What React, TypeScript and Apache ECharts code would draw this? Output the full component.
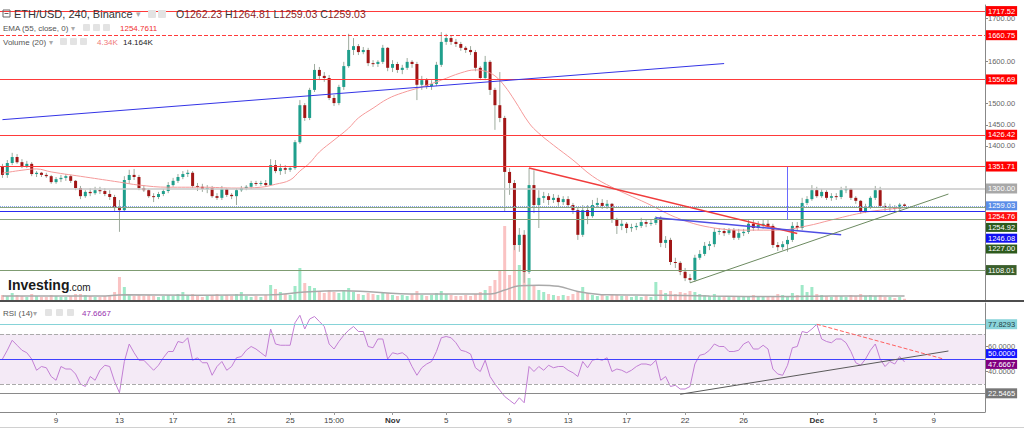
import React, { useEffect, useRef } from 'react';
import * as echarts from 'echarts';

// ---- data ----
// candles: [open, close, low, high]
const candles: number[][] = [
  [1351,1332,1325,1358],[1332,1360,1325,1367],[1360,1374,1355,1384],[1374,1362,1358,1381],[1362,1353,1348,1369],
  [1353,1358,1348,1365],[1358,1334,1329,1362],[1334,1337,1327,1341],[1337,1332,1327,1339],[1332,1329,1325,1337],
  [1329,1315,1311,1332],[1315,1322,1311,1327],[1322,1325,1315,1332],[1325,1329,1318,1334],[1329,1318,1313,1332],
  [1318,1301,1296,1320],[1301,1282,1275,1306],[1282,1292,1278,1296],[1292,1289,1282,1301],[1289,1296,1285,1304],
  [1296,1294,1287,1304],[1294,1287,1282,1301],[1287,1280,1273,1296],[1280,1254,1245,1285],[1254,1249,1198,1273],
  [1249,1320,1245,1329],[1320,1332,1311,1344],[1332,1327,1320,1346],[1327,1301,1296,1332],[1301,1296,1292,1308],
  [1296,1282,1278,1299],[1282,1280,1268,1289],[1280,1287,1275,1292],[1287,1294,1282,1299],[1294,1308,1289,1315],
  [1308,1318,1304,1325],[1318,1327,1313,1334],[1327,1334,1322,1341],[1334,1337,1327,1344],[1337,1306,1301,1341],
  [1306,1304,1294,1313],[1304,1299,1292,1311],[1299,1301,1289,1308],[1301,1282,1278,1306],[1282,1278,1273,1289],
  [1278,1299,1273,1306],[1299,1285,1280,1301],[1285,1282,1275,1289],[1282,1296,1261,1301],[1296,1301,1292,1306],
  [1301,1304,1296,1308],[1304,1313,1299,1318],[1313,1311,1306,1318],[1311,1313,1306,1318],[1313,1308,1304,1320],
  [1308,1355,1306,1369],[1355,1341,1336,1367],[1341,1348,1332,1358],[1348,1344,1334,1355],[1344,1348,1339,1353],
  [1348,1409,1344,1414],[1409,1496,1405,1508],[1496,1466,1459,1501],[1466,1532,1461,1537],[1532,1579,1527,1593],
  [1579,1565,1555,1586],[1565,1560,1551,1574],[1560,1513,1508,1567],[1513,1501,1494,1520],[1501,1539,1496,1544],
  [1539,1588,1532,1598],[1588,1626,1584,1664],[1626,1635,1614,1654],[1635,1621,1614,1640],[1621,1626,1616,1633],
  [1626,1595,1588,1631],[1595,1593,1586,1602],[1593,1598,1586,1602],[1598,1631,1593,1638],[1631,1584,1576,1633],
  [1584,1593,1574,1602],[1593,1579,1572,1598],[1579,1584,1569,1591],[1584,1598,1579,1607],[1598,1593,1584,1602],
  [1593,1544,1508,1598],[1544,1555,1532,1565],[1555,1541,1534,1560],[1541,1546,1532,1555],[1546,1591,1541,1598],
  [1591,1645,1586,1668],[1645,1654,1638,1664],[1654,1645,1638,1659],[1645,1640,1633,1652],[1640,1631,1624,1645],
  [1631,1626,1619,1635],[1626,1621,1614,1635],[1621,1584,1576,1626],[1584,1560,1555,1588],[1560,1598,1555,1612],
  [1598,1532,1520,1602],[1532,1496,1438,1537],[1496,1466,1456,1574],[1466,1339,1245,1471],[1339,1313,1285,1348],
  [1313,1167,1155,1320],[1167,1191,1151,1207],[1191,1104,1078,1202],[1104,1308,1099,1348],[1308,1261,1242,1343],
  [1261,1278,1207,1296],[1278,1282,1266,1292],[1282,1273,1261,1289],[1273,1278,1266,1287],[1278,1268,1259,1285],
  [1268,1275,1261,1282],[1275,1261,1254,1282],[1261,1249,1240,1266],[1249,1191,1179,1254],[1191,1249,1186,1261],
  [1249,1235,1216,1261],[1235,1261,1231,1273],[1261,1266,1254,1278],[1266,1259,1252,1275],[1259,1264,1252,1273],
  [1264,1226,1219,1266],[1226,1212,1193,1231],[1212,1217,1202,1226],[1217,1207,1195,1221],[1207,1209,1198,1217],
  [1209,1212,1202,1219],[1212,1221,1207,1231],[1221,1217,1209,1228],[1217,1219,1212,1226],[1219,1231,1214,1235],
  [1231,1172,1162,1235],[1172,1179,1160,1188],[1179,1127,1120,1184],[1127,1125,1113,1137],[1125,1104,1096,1129],
  [1104,1089,1082,1113],[1089,1085,1078,1099],[1085,1137,1080,1144],[1137,1146,1132,1155],[1146,1165,1141,1174],
  [1165,1169,1155,1176],[1169,1198,1162,1207],[1198,1200,1191,1207],[1200,1195,1188,1207],[1195,1202,1191,1207],
  [1202,1184,1179,1207],[1184,1195,1179,1205],[1195,1198,1188,1205],[1198,1217,1193,1226],[1217,1207,1200,1226],
  [1207,1214,1202,1223],[1214,1217,1205,1228],[1217,1212,1205,1226],[1212,1167,1160,1217],[1167,1162,1153,1174],
  [1162,1169,1155,1176],[1169,1179,1151,1188],[1179,1212,1174,1221],[1212,1207,1200,1221],[1207,1266,1202,1278],
  [1266,1275,1261,1282],[1275,1296,1271,1308],[1296,1282,1278,1304],[1282,1292,1278,1299],[1292,1278,1273,1296],
  [1278,1282,1271,1289],[1282,1280,1273,1289],[1280,1296,1275,1304],[1296,1299,1289,1306],[1299,1278,1273,1301],
  [1278,1271,1264,1282],[1271,1245,1240,1273],[1245,1256,1242,1264],[1256,1278,1252,1282],[1278,1296,1273,1306],
  [1296,1259,1254,1304],[1259,1254,1247,1266],[1254,1256,1247,1264],[1256,1252,1245,1261],[1252,1262,1245,1266],
  [1262.23,1259.03,1259.03,1264.81],
];

// volume in K
const volumes: number[] = [
  17.5,14,24.5,17.5,14,10.5,21,14,10.5,10.5,17.5,14,10.5,10.5,14,21,21,17.5,14,10.5,10.5,14,17.5,
  28,80.5,45.5,
  21,14,17.5,14,17.5,14,10.5,14,17.5,14,21,28,17.5,21,14,10.5,14,17.5,21,14,17.5,14,21,28,14,10.5,14,10.5,
  17.5,52.5,38.5,28,21,17.5,49,112,59.5,49,42,
  31.5,24.5,35,28,24.5,31.5,42,28,21,17.5,24.5,21,17.5,28,24.5,17.5,14,17.5,14,21,31.5,17.5,14,17.5,24.5,31.5,21,17.5,14,14,17.5,14,
  21,28,35,49,70,105,259,87.5,210,122.5,140,77,49,35,
  28,21,17.5,14,17.5,14,21,31.5,45.5,24.5,17.5,14,17.5,14,21,17.5,14,14,10.5,14,10.5,14,10.5,
  63,35,24.5,31.5,21,28,24.5,31.5,28,21,17.5,
  14,21,14,10.5,14,10.5,10.5,14,10.5,17.5,14,10.5,10.5,14,21,17.5,14,24.5,17.5,
  52.5,28,45.5,21,
  17.5,14,10.5,14,14,10.5,17.5,14,21,14,17.5,14,17.5,10.5,10.5,7,10.5,4.34,
];

const rsi: number[] = [
  50,57,65,61,57,55,50,41,44,43, 36,33,44,42,42,38,30,28,36,33,
  41,45,44,32,23,48,62,55,49,49, 45,41,45,51,56,56,64,63,67,49,
  51,47,47,37,44,48,41,44,51,52, 57,60,58,55,52,74,62,61,61,61,
  79,85,74,82,84,80,76,62,58,64, 69,73,76,72,72,60,59,66,66,50,
  55,54,55,52,44,37,43,46,48,56, 67,68,67,63,57,56,54,43,40,49,
  36,30,25,20,17,14,19,15,44,40, 44,41,45,43,44,44,41,39,36,48,
  43,49,50,49,51,40,42,41,39,41, 44,46,46,45,49,33,36,28,29,26,
  26,28,46,53,54,57,62,60,60,56, 56,57,62,64,58,58,61,58,42,38,
  37,45,59,60,72,71,74,77.8,66,64, 63,66,66,63,56,47,45,50,57,62,
  50,44,48,46,52,47.6667,
];

// EMA(55) read at [candle index, price]
const ema: number[][] = [
  [0,1336],[4,1343],[7,1346],[10,1339],[17,1327],[24,1315],[28,1308],[34,1303],[41,1303],[48,1301],
  [53,1303],[56,1310],[59,1320],[61,1341],[63,1360],[65,1386],[68,1414],[71,1442],[73,1466],[76,1489],
  [79,1511],[82,1525],[86,1539],[90,1555],[94,1572],[97,1579],[99,1576],[101,1565],[103,1541],[105,1508],
  [108,1454],[110,1430],[113,1402],[117,1367],[121,1329],[125,1303],[132,1266],[139,1228],[146,1207],
  [153,1202],[159,1202],[165,1212],[170,1226],[176,1242],[180,1249],[185,1254.7611],
];

// Volume MA(20) read at [candle index, K]
const volMa: number[][] = [
  [0,14],[20,14],[25,18],[40,17],[55,18],[62,28],[70,32],[85,21],[100,21],[103,35],[106,50],[110,52],
  [114,48],[118,30],[124,18],[135,17],[145,14],[160,12],[170,14],[185,14.164],
];

const xTickIndex = [11, 24, 35, 47, 59, 68, 80, 91, 104, 116, 128, 140, 152, 167, 179, 191];
const xTickText = ['9', '13', '17', '21', '25', '15:00', 'Nov', '5', '9', '13', '17', '22', '26', 'Dec', '5', '9'];
const slotCount = 202;

const priceTicks = [1400, 1450, 1500, 1600, 1700];
const rsiTicks = [40, 60];

const resistanceLevels = [1717.52, 1660.75, 1556.69, 1426.42, 1351.71];
const level1300 = 1300;
const lastPrice = 1259.03;
const lastEma = 1254.7611;
const greenLevel = 1254.92;
const blueLevel = 1246.08;
const supportLevels = [1227.0, 1108.01];
const lastVolume = 4.34;
const lastVolMa = 14.164;

// trendlines: [[idx, price], [idx, price]]
const blueTrend = [[0, 1462], [148, 1594]];
const redTrend = [[108, 1348], [163, 1194]];
const blueShortTrend = [[134, 1231], [172, 1191]];
const greenTrend = [[141, 1078], [194, 1287]];
const blueVertical = [[161, 1351], [161, 1226]];

const rsiLevels = { upperMark: 77.8293, overbought: 70, mid: 50, oversold: 30, lowerMark: 22.5465 };
const rsiLast = 47.6667;
const rsiBlackTrend = [[139, 21.8], [194, 56.4]];
const rsiRedTrend = [[167, 77.8], [193, 50]];

const ohlc = { o: 1262.23, h: 1264.81, l: 1259.03, c: 1259.03 };

// ---- styles ----
const GREEN = '#1f9f8c';
const RED = '#a11616';
const WICK = '#9eab9e';
const FONT = 'Arial';

const boxLabel = (text: string, bg: string, fg = '#fff') => ({
  show: true,
  position: 'end',
  distance: 1,
  formatter: text,
  backgroundColor: bg,
  color: fg,
  fontSize: 7.5,
  fontFamily: FONT,
  padding: [1.5, 2, 0.5, 2],
  lineHeight: 8,
});
const richBox = (bg: string, fg = '#fff') => ({
  backgroundColor: bg,
  color: fg,
  fontSize: 7.5,
  fontFamily: FONT,
  lineHeight: 10.8,
  height: 9,
  padding: [0, 2],
});
const seg = (pts: number[][], color: string, width = 1, type = 'solid') => [
  { coord: pts[0], lineStyle: { color, width, type } },
  { coord: pts[1] },
];
const solid = (color: string, width = 1) => ({ color, width, type: 'solid' });

export default function App() {
  const ref = useRef<HTMLDivElement>(null);
  useEffect(() => {
    const chart = echarts.init(ref.current as HTMLDivElement, null, { renderer: 'svg' });
    const cats = Array.from({ length: slotCount }, (_, i) => String(i));
    const tickMap = new Map<number, string>();
    xTickIndex.forEach((idx, k) => tickMap.set(idx, xTickText[k]));
    const candleData = candles.map((d, i) => [i, d[0], d[1], d[2], d[3]]);
    const volData = volumes.map((v, i) => ({
      value: v,
      itemStyle: { color: candles[i][1] >= candles[i][0] ? 'rgba(80,215,155,0.55)' : 'rgba(245,135,135,0.5)' },
    }));

    const xAxisFor = (gi: number) => ({
      type: 'category',
      gridIndex: gi,
      data: cats,
      boundaryGap: true,
      show: gi === 2,
      axisLine: { show: true, lineStyle: { color: '#888' } },
      axisTick: {
        show: true,
        alignWithLabel: true,
        interval: (i: number) => tickMap.has(i),
        length: 3,
        lineStyle: { color: '#999' },
      },
      axisLabel: {
        interval: (i: number) => tickMap.has(i),
        formatter: (v: string) => {
          const t = tickMap.get(Number(v)) || '';
          return t === 'Nov' || t === 'Dec' ? `{b|${t}}` : t;
        },
        color: '#444',
        fontSize: 8,
        fontFamily: FONT,
        margin: 4,
        rich: { b: { fontWeight: 'bold', fontSize: 8, color: '#333', fontFamily: FONT } },
      },
      splitLine: { show: false },
    });

    const stackText = [lastPrice, lastEma, greenLevel, blueLevel, supportLevels[0]]
      .map((v, k) => `{r${k}|${v.toFixed(2)}}`)
      .join('\n');

    const priceMarks = [
      ...resistanceLevels.map((v, k) => ({
        yAxis: v,
        lineStyle: { color: '#ff3a3a', width: 1, type: k === 1 ? 'dashed' : 'solid' },
        label: boxLabel(v.toFixed(2), '#ff0000'),
      })),
      { yAxis: level1300, lineStyle: solid('#c9c9c9', 1.5), label: boxLabel(level1300.toFixed(2), '#a8a8a8') },
      {
        yAxis: lastPrice,
        lineStyle: { color: '#86a3ea', width: 1, type: 'dotted' },
        label: {
          show: true,
          position: 'end',
          distance: 1,
          formatter: stackText,
          padding: [43, 0, 0, 0],
          rich: {
            r0: richBox('#5b8ee8'),
            r1: richBox('#ff1010'),
            r2: richBox('#2d5a1c'),
            r3: richBox('#1010f0'),
            r4: richBox('#2d5a1c'),
          },
        },
      },
      { yAxis: greenLevel, lineStyle: solid('#8aa57e', 1), label: { show: false } },
      { yAxis: blueLevel, lineStyle: solid('#2a2af0', 1), label: { show: false } },
      { yAxis: supportLevels[0], lineStyle: solid('#8aa57e', 1.2), label: { show: false } },
      { yAxis: supportLevels[1], lineStyle: solid('#7f9c72', 1.2), label: boxLabel(supportLevels[1].toFixed(2), '#3b5f2c') },
      seg(blueTrend, '#3434e6', 1),
      seg(redTrend, '#f03c3c', 1.5),
      seg(blueShortTrend, '#4f4fe4', 1.5),
      seg(greenTrend, '#6c8a60', 1),
      seg(blueVertical, '#6a6aff', 1),
    ];

    const rsiMarks = [
      { yAxis: rsiLevels.upperMark, lineStyle: solid('#86d3d8', 1), label: boxLabel(rsiLevels.upperMark.toFixed(4), '#8ad4da', '#1f3f44') },
      { yAxis: rsiLevels.overbought, lineStyle: { color: '#aaaaaa', width: 1, type: 'dashed' }, label: { show: false } },
      { yAxis: rsiLevels.oversold, lineStyle: { color: '#aaaaaa', width: 1, type: 'dashed' }, label: { show: false } },
      {
        yAxis: rsiLevels.mid,
        lineStyle: solid('#4040ff', 1),
        label: {
          show: true,
          position: 'end',
          distance: 1,
          formatter: `{b|${rsiLevels.mid.toFixed(4)}}\n{p|${rsiLast.toFixed(4)}}`,
          rich: { b: richBox('#1414ff'), p: richBox('#800080') },
        },
      },
      { yAxis: rsiLevels.lowerMark, lineStyle: solid('#8a8a8a', 1), label: boxLabel(rsiLevels.lowerMark.toFixed(4), '#777777') },
      seg(rsiBlackTrend, '#5a5a5a', 1),
      seg(rsiRedTrend, '#ff6060', 1, 'dashed'),
    ];

    const iconRect = (x: number, y: number, s = 8) => ({
      type: 'rect',
      shape: { x, y, width: s, height: s, r: 1 },
      style: { fill: '#e3e3e3' },
      z: 100,
    });
    const txt = (x: number, y: number, text: string, font: string, fill: string) => ({
      type: 'text',
      x,
      y,
      style: { text, font, fill, verticalAlign: 'middle' },
      z: 100,
    });

    const option: any = {
      animation: false,
      backgroundColor: '#ffffff',
      grid: [
        { left: 0, right: 39, top: 5, height: 295 },
        { left: 0, right: 39, top: 220, height: 80 },
        { left: 0, right: 39, top: 303, height: 109 },
      ],
      xAxis: [xAxisFor(0), xAxisFor(1), xAxisFor(2)],
      yAxis: [
        {
          type: 'value',
          gridIndex: 0,
          position: 'right',
          min: 1037.6,
          max: 1731.8,
          axisLine: { show: true, lineStyle: { color: '#888' } },
          axisTick: { show: true, customValues: priceTicks, length: 3, lineStyle: { color: '#888' } },
          axisLabel: {
            customValues: priceTicks,
            formatter: (v: number) => v.toFixed(2),
            color: '#666',
            fontSize: 7.5,
            fontFamily: FONT,
            margin: 3,
          },
          splitLine: { show: false },
        },
        { type: 'value', gridIndex: 1, min: 0, max: 280, show: false, splitLine: { show: false } },
        {
          type: 'value',
          gridIndex: 2,
          position: 'right',
          min: 7.6,
          max: 94.8,
          axisLine: { show: true, lineStyle: { color: '#888' } },
          axisTick: { show: true, customValues: rsiTicks, length: 3, lineStyle: { color: '#888' } },
          axisLabel: {
            customValues: rsiTicks,
            formatter: (v: number) => v.toFixed(4),
            color: '#666',
            fontSize: 7.5,
            fontFamily: FONT,
            margin: 3,
          },
          splitLine: { show: false },
        },
      ],
      series: [
        {
          type: 'bar',
          name: 'Volume',
          xAxisIndex: 1,
          yAxisIndex: 1,
          data: volData,
          barWidth: 3,
          z: 1,
        },
        {
          type: 'line',
          name: 'VolMA',
          xAxisIndex: 1,
          yAxisIndex: 1,
          data: volMa,
          smooth: 0.4,
          symbol: 'none',
          lineStyle: { color: '#a9a9a9', width: 1.5 },
          z: 2,
          markLine: {
            silent: true,
            symbol: ['none', 'none'],
            data: [{ yAxis: lastVolMa, lineStyle: { opacity: 0 }, label: boxLabel(lastVolMa.toFixed(3) + 'K', '#000000') }],
          },
        },
        {
          type: 'custom',
          name: 'ETH/USD',
          xAxisIndex: 0,
          yAxisIndex: 0,
          data: candleData,
          encode: { x: 0, y: [1, 2, 3, 4] },
          z: 3,
          renderItem: (params: any, api: any) => {
            const i = api.value(0);
            const o = api.value(1);
            const c = api.value(2);
            const l = api.value(3);
            const h = api.value(4);
            const pO = api.coord([i, o]);
            const pC = api.coord([i, c]);
            const pL = api.coord([i, l]);
            const pH = api.coord([i, h]);
            const bw = 3;
            const top = Math.min(pO[1], pC[1]);
            const ht = Math.max(Math.abs(pO[1] - pC[1]), 1);
            return {
              type: 'group',
              children: [
                { type: 'line', shape: { x1: pH[0], y1: pH[1], x2: pL[0], y2: pL[1] }, style: { stroke: WICK, lineWidth: 1 } },
                { type: 'rect', shape: { x: pO[0] - bw / 2, y: top, width: bw, height: ht }, style: { fill: c >= o ? GREEN : RED } },
              ],
            };
          },
        },
        {
          type: 'line',
          name: 'EMA',
          xAxisIndex: 0,
          yAxisIndex: 0,
          data: ema,
          smooth: 0.4,
          symbol: 'none',
          lineStyle: { color: '#f59a9a', width: 1 },
          z: 4,
          markLine: { silent: true, symbol: ['none', 'none'], lineStyle: { type: 'solid' }, data: priceMarks },
        },
        {
          type: 'line',
          name: 'RSI',
          xAxisIndex: 2,
          yAxisIndex: 2,
          data: rsi,
          symbol: 'none',
          lineStyle: { color: '#c27fd4', width: 1 },
          z: 4,
          markArea: {
            silent: true,
            itemStyle: { color: 'rgba(205,160,215,0.22)' },
            data: [[{ yAxis: rsiLevels.oversold }, { yAxis: rsiLevels.overbought }]],
          },
          markLine: { silent: true, symbol: ['none', 'none'], lineStyle: { type: 'solid' }, data: rsiMarks },
        },
      ],
      graphic: [
        { type: 'rect', shape: { x: 0, y: 300, width: 1024, height: 2 }, style: { fill: '#4d4d4d' }, z: 90 },
        { type: 'rect', shape: { x: 0, y: 427, width: 1024, height: 1 }, style: { fill: '#d0d0d0' }, z: 90 },
        // header row 1
        { type: 'rect', shape: { x: 3, y: 10, width: 7, height: 7 }, style: { fill: 'none', stroke: '#666', lineWidth: 1 }, z: 100 },
        { type: 'line', shape: { x1: 4.5, y1: 13.5, x2: 8.5, y2: 13.5 }, style: { stroke: '#666', lineWidth: 1 }, z: 100 },
        txt(14, 14, 'ETH/USD, 240, Binance', '11px Arial', '#333'),
        txt(136, 14, '▾', '9px Arial', '#aaa'),
        iconRect(148, 10),
        iconRect(158, 10),
        {
          type: 'text',
          x: 176,
          y: 14,
          z: 100,
          style: {
            text: `{k|O}{v|${ohlc.o.toFixed(2)}} {k|H}{v|${ohlc.h.toFixed(2)}} {k|L}{v|${ohlc.l.toFixed(2)}} {k|C}{v|${ohlc.c.toFixed(2)}}`,
            verticalAlign: 'middle',
            font: '10.5px Arial',
            rich: {
              k: { fill: '#333', font: '10.5px Arial' },
              v: { fill: '#8b1f1f', font: '10.5px Arial' },
            },
          },
        },
        // header row 2
        txt(3, 28, 'EMA (55, close, 0)', '8px Arial', '#555'),
        txt(71, 28, '▾', '8px Arial', '#aaa'),
        iconRect(83, 24, 7),
        iconRect(93, 24, 7),
        iconRect(103, 24, 7),
        txt(120, 28, lastEma.toFixed(4), '8px Arial', '#f03030'),
        // header row 3
        txt(3, 42, 'Volume (20)', '8px Arial', '#555'),
        txt(49, 42, '▾', '8px Arial', '#aaa'),
        iconRect(60, 38, 7),
        iconRect(70, 38, 7),
        iconRect(80, 38, 7),
        txt(97, 42, lastVolume.toFixed(2) + 'K', '8px Arial', '#f07a7a'),
        txt(123, 42, lastVolMa.toFixed(3) + 'K', '8px Arial', '#222'),
        // RSI header
        txt(3, 313, 'RSI (14)', '8px Arial', '#555'),
        txt(33, 313, '▾', '8px Arial', '#aaa'),
        iconRect(45, 309, 7),
        iconRect(56, 309, 7),
        iconRect(67, 309, 7),
        txt(82, 313, rsiLast.toFixed(4), '8px Arial', '#9932b0'),
        // logo
        txt(8, 285, 'Investing', 'bold 14px Arial', '#1a1a1a'),
        txt(69, 287, '.com', '10px Arial', '#1a1a1a'),
      ],
    };
    chart.setOption(option);
    return () => chart.dispose();
  }, []);
  return <div ref={ref} style={{ position: 'fixed', left: 0, top: 0, width: 1024, height: 429 }} />;
}
